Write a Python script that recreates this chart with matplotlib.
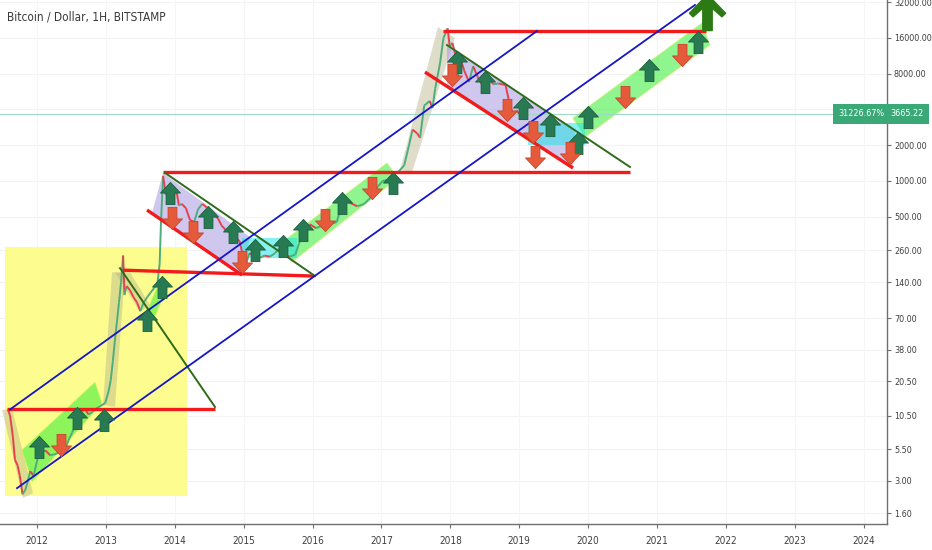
import numpy as np
import matplotlib.pyplot as plt
from matplotlib import font_manager
from matplotlib.path import Path

# TradingView uses a narrow face; take a condensed one if the box has it
have_cond = any(f.name == 'DejaVu Sans' and f.stretch == 'condensed'
                for f in font_manager.fontManager.ttflist)
if have_cond:
    FONT = ['DejaVu Sans', 'Liberation Sans']
    STRETCH = 'condensed'
    TICK_SIZE = 7.2
    PRICE_SIZE = 6.5
else:
    FONT = ['Liberation Sans', 'DejaVu Sans']
    STRETCH = 'normal'
    TICK_SIZE = 6.8
    PRICE_SIZE = 6.3
plt.rcParams['font.family'] = FONT
plt.rcParams['font.stretch'] = STRETCH

# price history (decimal year, USD)
price_years = [2011.58, 2011.61, 2011.65, 2011.68, 2011.72, 2011.75, 2011.79, 2011.83, 2011.87, 2011.90,
               2011.95, 2012.02, 2012.12, 2012.19, 2012.26, 2012.33, 2012.41, 2012.47, 2012.51, 2012.55,
               2012.60, 2012.65, 2012.70, 2012.75, 2012.80, 2012.84, 2012.90, 2012.99, 2013.04, 2013.07,
               2013.10, 2013.13, 2013.16, 2013.19, 2013.22, 2013.25, 2013.27, 2013.30, 2013.35, 2013.40,
               2013.45, 2013.50, 2013.55, 2013.60, 2013.65, 2013.70, 2013.75, 2013.78, 2013.80, 2013.83,
               2013.87, 2013.90, 2013.96, 2014.02, 2014.06, 2014.10, 2014.16, 2014.22, 2014.28, 2014.34,
               2014.40, 2014.46, 2014.51, 2014.56, 2014.63, 2014.68, 2014.74, 2014.80, 2014.87, 2014.94,
               2015.00, 2015.03, 2015.08, 2015.14, 2015.24, 2015.30, 2015.38, 2015.45, 2015.53, 2015.60,
               2015.67, 2015.75, 2015.83, 2015.90, 2015.96, 2016.05, 2016.15, 2016.25, 2016.35, 2016.45,
               2016.55, 2016.65, 2016.75, 2016.85, 2016.95, 2017.02, 2017.10, 2017.18, 2017.25, 2017.33,
               2017.40, 2017.45, 2017.52, 2017.56, 2017.62, 2017.70, 2017.74, 2017.78, 2017.85, 2017.90,
               2017.96, 2017.99, 2018.03, 2018.08, 2018.10, 2018.15, 2018.20, 2018.27, 2018.33, 2018.40,
               2018.47, 2018.55, 2018.62, 2018.70, 2018.80, 2018.87, 2018.92, 2018.96, 2019.00]
price_vals = [11.8, 10.5, 7.0, 4.5, 4.0, 3.3, 2.3, 2.5, 3.0, 3.6,
              3.3, 4.9, 5.4, 4.9, 5.0, 5.2, 5.6, 6.8, 7.6, 8.7,
              10.5, 11.5, 11.9, 10.8, 11.3, 11.9, 12.5, 13.5, 17, 21,
              30, 45, 65, 95, 140, 235, 110, 130, 120, 105,
              95, 80, 95, 105, 115, 125, 140, 200, 450, 1100,
              760, 900, 700, 850, 620, 640, 590, 470, 450, 580,
              640, 600, 580, 520, 480, 420, 385, 370, 340, 310,
              220, 195, 245, 240, 225, 235, 230, 245, 275, 240,
              230, 240, 330, 380, 430, 400, 420, 430, 450, 700,
              650, 610, 640, 730, 900, 1000, 1020, 1150, 1200, 1350,
              2000, 2700, 2500, 2300, 4300, 4700, 4100, 6000, 9800, 16000,
              19200, 13500, 14500, 11000, 7000, 10500, 8500, 6800, 9200, 7400,
              6300, 7800, 6500, 6600, 6400, 4200, 3600, 3900, 3665.22]
last_price = 3665.22
last_change = '31226.67%'

# axis ticks
year_ticks = list(range(2012, 2025))
price_ticks = [1.6, 3.0, 5.5, 10.5, 20.5, 38, 70, 140, 260, 500, 1000, 2000, 8000, 16000, 32000]

# drawings: (year start, year end), (price start, price end)
red_lines = [((2011.565, 2014.583), (12.0, 12.0)),
             ((2013.248, 2016.006), (177, 158)),
             ((2013.829, 2020.607), (1186, 1186)),
             ((2017.893, 2021.710), (18240, 18240)),
             ((2013.597, 2014.975), (568, 161)),
             ((2017.631, 2019.780), (8230, 1282))]
green_lines = [((2013.205, 2014.583), (184, 12.5)),
               ((2013.858, 2016.035), (1167, 158)),
               ((2017.951, 2020.607), (13900, 1307))]
blue_lines = [((2011.608, 2019.257), (11.9, 18240)),
              ((2011.710, 2021.550), (2.59, 30200))]

# shaded zones
yellow_box = ((2011.536, 2014.177), (2.22, 277))
cyan_boxes = [((2014.975, 2015.774), (224, 330)),
              ((2019.126, 2019.953), (2000, 3070))]
green_bands = [([2011.782, 2012.842, 2012.943, 2011.927], [5.42, 20.2, 13.5, 2.91]),
               ([2015.599, 2017.080, 2017.240, 2015.701], [317, 1412, 1056, 207]),
               ([2019.779, 2021.652, 2021.768, 2019.954], [3380, 21300, 13900, 2340]),
               ([2013.560, 2013.700, 2013.890, 2013.750], [72, 70, 125, 130])]
tan_bands = [([2011.492, 2011.637, 2011.942, 2011.797], [11.76, 12.2, 2.35, 2.14]),
             ([2012.958, 2013.132, 2013.277, 2013.089], [12.96, 12.5, 167, 170]),
             ([2013.132, 2013.350, 2013.640, 2013.495], [170, 170, 90, 79]),
             ([2017.269, 2017.443, 2018.067, 2017.820], [1232, 1186, 15930, 19700])]
purple_zones = [([2013.829, 2015.091, 2014.975, 2013.669], [1164, 336, 161, 536]),
                ([2017.951, 2019.808, 2019.780, 2017.951], [13900, 2680, 1282, 6280])]

# signal arrows
up_years = [2012.029, 2012.581, 2012.972, 2013.597, 2013.814, 2013.930, 2014.482, 2014.845, 2015.164,
            2015.570, 2015.861, 2016.427, 2017.167, 2018.096, 2018.502, 2019.054, 2019.445, 2019.852,
            2019.997, 2020.882, 2021.594]
up_prices = [5.74, 10.07, 9.69, 67.3, 128, 790, 496, 371, 262,
             283, 385, 650, 958, 10000, 6790, 4100, 2950, 2080,
             3445, 8560, 14730]
down_years = [2012.348, 2013.959, 2014.264, 2014.975, 2016.180, 2016.862, 2018.023, 2018.821, 2019.199,
              2019.228, 2019.736, 2020.534, 2021.362]
down_prices = [5.97, 486, 371, 207, 468, 870, 7770, 3940, 2575,
               1585, 1714, 5070, 11450]
big_arrow = (2021.725, 26300)

up_marker = Path([(-0.2, -0.5), (0.2, -0.5), (0.2, 0.02), (0.45, 0.02), (0.0, 0.5),
                  (-0.45, 0.02), (-0.2, 0.02), (-0.2, -0.5)], closed=True)
down_marker = Path([(x, -y) for x, y in up_marker.vertices], closed=True)
big_marker = Path([(-0.13, -0.5), (0.13, -0.5), (0.13, 0.12), (0.4, -0.12), (0.5, -0.02), (0.0, 0.5),
                   (-0.5, -0.02), (-0.4, -0.12), (-0.13, 0.12), (-0.13, -0.5)], closed=True)

fig = plt.figure(figsize=(9.32, 5.5), dpi=100)
fig.patch.set_facecolor('white')
ax = fig.add_axes([0, 26 / 550, 887 / 932, 524 / 550])
ax.set_yscale('log')
ax.set_xlim(2011.463, 2024.337)
ax.set_ylim(1.293, 33265)

for p in price_ticks + [4000]:
    ax.axhline(p, color='#f3f3f6', lw=0.8, zorder=0)
for y in year_ticks:
    ax.axvline(y, color='#f5f5f8', lw=0.8, zorder=0)

(x0, x1), (y0, y1) = yellow_box
ax.fill([x0, x1, x1, x0], [y0, y0, y1, y1], color='#fdfd8f', lw=0, zorder=1)

for xs, ys in tan_bands:
    ax.fill(xs, ys, color='#b8b48a', alpha=0.45, lw=0, zorder=2)
for xs, ys in purple_zones:
    ax.fill(xs, ys, color='#a99ae0', alpha=0.55, lw=0, zorder=2)
for xs, ys in green_bands:
    ax.fill(xs, ys, facecolor='#33ee33', alpha=0.55, edgecolor='#d8f060', lw=0.8, zorder=2)
for (x0, x1), (y0, y1) in cyan_boxes:
    ax.fill([x0, x1, x1, x0], [y0, y0, y1, y1], color='#22e6e6', alpha=0.55, lw=0, zorder=2)

ax.axhline(last_price, color='#9fd9c6', lw=0.8, zorder=2)

# price line, coloured by direction
for i in range(len(price_vals) - 1):
    c = '#4cae7c' if price_vals[i + 1] >= price_vals[i] else '#e6404f'
    ax.plot(price_years[i:i + 2], price_vals[i:i + 2], color=c, lw=1.4, zorder=3,
            solid_capstyle='butt')

for xs, ys in red_lines:
    ax.plot(xs, ys, color='#f21a1a', lw=2.4, zorder=4, solid_capstyle='butt')
for xs, ys in green_lines:
    ax.plot(xs, ys, color='#2f6b1a', lw=1.4, zorder=4)
for xs, ys in blue_lines:
    ax.plot(xs, ys, color='#1515c8', lw=1.3, zorder=4)

ax.plot(up_years, up_prices, ls='none', marker=up_marker, ms=16, color='#277a52',
        mec='#1d5e3e', mew=0.6, zorder=5)
ax.plot(down_years, down_prices, ls='none', marker=down_marker, ms=16, color='#e65a3c',
        mec='#c7452c', mew=0.6, zorder=5)
ax.plot([big_arrow[0]], [big_arrow[1]], ls='none', marker=big_marker, ms=26, color='#2c7a14',
        zorder=5)

# axes styling
for s in ['left', 'top']:
    ax.spines[s].set_visible(False)
for s in ['right', 'bottom']:
    ax.spines[s].set_color('#6f6f6f')
    ax.spines[s].set_linewidth(1.0)
ax.yaxis.tick_right()
ax.set_yticks(price_ticks)
ax.set_yticklabels(['%.2f' % p for p in price_ticks])
ax.yaxis.set_minor_locator(plt.NullLocator())
ax.set_xticks(year_ticks)
ax.set_xticklabels([str(y) for y in year_ticks])
ax.tick_params(axis='both', colors='#6f6f6f', labelcolor='#3f3f3f', length=3)
ax.tick_params(axis='x', pad=6, labelsize=TICK_SIZE)
ax.tick_params(axis='y', pad=2, labelsize=PRICE_SIZE)

tr = ax.get_yaxis_transform()
ax.text(0.997, last_price, last_change, transform=tr, ha='right', va='center', color='white',
        fontsize=PRICE_SIZE, zorder=6, bbox=dict(boxstyle='square,pad=0.6', fc='#3ba878', ec='none'))
ax.text(1.004, last_price, '%.2f' % last_price, transform=tr, ha='left', va='center', color='white',
        fontsize=PRICE_SIZE, zorder=6, clip_on=False,
        bbox=dict(boxstyle='square,pad=0.6', fc='#3ba878', ec='none'))

fig.text(7 / 932, 1 - 17 / 550, 'Bitcoin / Dollar, 1H, BITSTAMP', ha='left', va='center',
         color='#3a3a3a', fontsize=8.5)

fig.savefig('out.png', dpi=100)
